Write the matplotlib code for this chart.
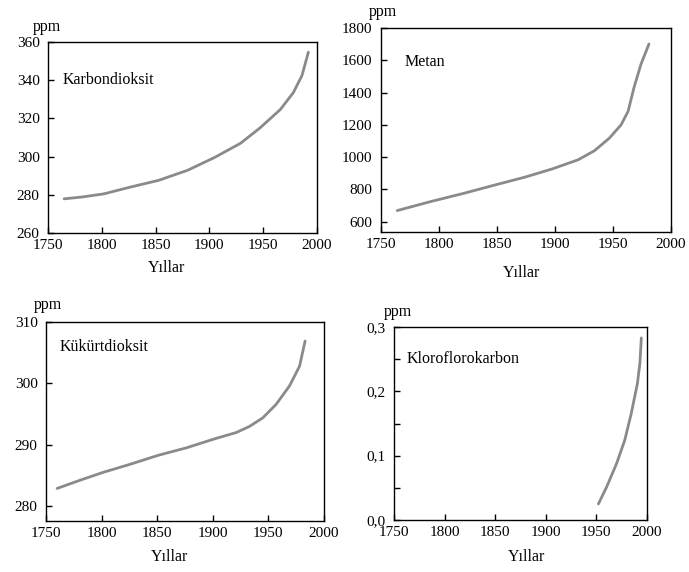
import matplotlib.pyplot as plt
from matplotlib.ticker import FixedLocator, FuncFormatter

plt.rcParams['font.family'] = ['Liberation Serif', 'DejaVu Serif']
plt.rcParams['font.size'] = 11

# values
co2_years = [1765, 1781, 1802, 1827, 1853, 1880, 1905, 1929, 1947, 1966, 1978, 1986, 1992]
co2_ppm = [277.9, 278.8, 280.5, 284.1, 287.6, 292.9, 299.6, 307.0, 315.0, 324.7, 333.5, 342.4, 354.7]

ch4_years = [1764, 1793, 1822, 1849, 1874, 1898, 1920, 1934, 1947, 1957, 1963, 1968, 1974, 1981]
ch4_ppm = [668, 724, 776, 828, 875, 927, 983, 1039, 1118, 1200, 1283, 1428, 1573, 1701]

so2_years = [1760, 1780, 1801, 1825, 1851, 1876, 1902, 1921, 1933, 1945, 1957, 1969, 1978, 1983]
so2_ppm = [282.9, 284.2, 285.5, 286.8, 288.3, 289.5, 291.0, 292.0, 293.0, 294.4, 296.6, 299.6, 302.8, 306.9]

cfc_years = [1952, 1960, 1970, 1978, 1984.5, 1990.5, 1993, 1994.4]
cfc_ppm = [0.025, 0.051, 0.088, 0.124, 0.166, 0.212, 0.244, 0.283]

panels = [
    # name, x, y, ylim, yticks, label style, axes box px (l, r, t, b), ppm pos, yillar pos, name pos
    ('Karbondioksit', co2_years, co2_ppm, (260, 360), [260, 280, 300, 320, 340, 360], None,
     (48, 317, 42, 233), (47, 27), (167, 268), (63, 80)),
    ('Metan', ch4_years, ch4_ppm, (535, 1800), [600, 800, 1000, 1200, 1400, 1600, 1800], None,
     (381, 671, 28, 232), (383, 12), (522, 273), (405, 62)),
    ('Kükürtdioksit', so2_years, so2_ppm, (277.6, 310), [280, 290, 300, 310], None,
     (46, 324, 322, 521), (48, 305), (170, 557), (60, 347)),
    ('Kloroflorokarbon', cfc_years, cfc_ppm, (0, 0.3), [0, 0.05, 0.1, 0.15, 0.2, 0.25, 0.3], 'comma',
     (394, 647, 327, 520), (398, 312), (527, 557), (407, 359)),
]

W, H = 689, 572
fig = plt.figure(figsize=(W / 100, H / 100), dpi=100)


def comma_lab(v, pos):
    # only every 0.1 gets a label, the half steps stay bare ticks
    if abs(round(v * 10) - v * 10) > 1e-6:
        return ''
    return ('%.1f' % v).replace('.', ',')


for name, xs, ys, ylim, yticks, fmt, box, ppm_pos, yil_pos, name_pos in panels:
    l, r, t, b = box
    ax = fig.add_axes([l / W, 1 - b / H, (r - l) / W, (b - t) / H])
    ax.plot(xs, ys, color='#8a8a8a', lw=2.0, solid_capstyle='round')
    ax.set_xlim(1750, 2000)
    ax.set_ylim(*ylim)
    ax.set_xticks([1750, 1800, 1850, 1900, 1950, 2000])
    ax.yaxis.set_major_locator(FixedLocator(yticks))
    if fmt == 'comma':
        ax.yaxis.set_major_formatter(FuncFormatter(comma_lab))
    ax.tick_params(direction='in', length=4, width=1, labelsize=11)
    ax.tick_params(axis='x', pad=4)
    ax.tick_params(axis='y', pad=6)
    for s in ax.spines.values():
        s.set_linewidth(1.0)
    fig.text(ppm_pos[0] / W, 1 - ppm_pos[1] / H, 'ppm', ha='center', va='center', fontsize=11.5)
    fig.text(yil_pos[0] / W, 1 - yil_pos[1] / H, 'Yıllar', ha='center', va='center', fontsize=11.5)
    fig.text(name_pos[0] / W, 1 - name_pos[1] / H, name, ha='left', va='center', fontsize=11.5)

fig.savefig('out.png', dpi=100)
